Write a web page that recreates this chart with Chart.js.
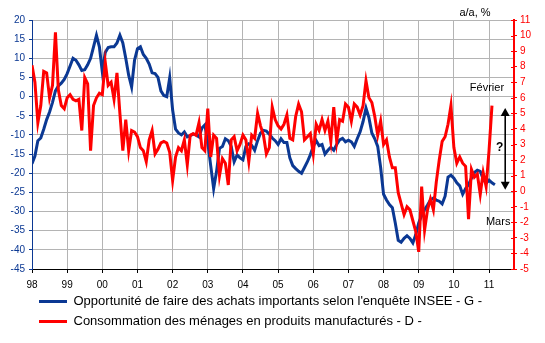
<!DOCTYPE html>
<html lang="fr">
<head>
<meta charset="utf-8">
<script src="https://cdn.jsdelivr.net/npm/chart.js@4.4.0/dist/chart.umd.min.js"></script>
<style>
  html, body { margin: 0; padding: 0; background: #fff; }
</style>
</head>
<body>
<canvas id="graphique" width="545" height="343"></canvas>
<script>
// Séries mensuelles à partir de janvier 1998
const anneeDebut = 1998;
const nomOpportunite = "Opportunité de faire des achats importants selon l'enquête INSEE - G -";
const nomConsommation = "Consommation des ménages en produits manufacturés - D -";

// Solde d'opinion (échelle de gauche), janv. 1998 -> mars 2011
const opportunite = [
  -17.5, -15.5, -11.5, -10.8, -8.5, -6, -4, -1.5, 1.5, 2.8, 3.5, 4.5,
  6, 8, 10, 9.5, 8.3, 6.8, 7, 8.3, 10, 13, 16, 13,
  6.5, 11.5, 12.8, 13, 13, 14, 16, 14, 10, 5.6, 2.5, 9.5,
  12.5, 13, 11, 10, 8.5, 6.2, 6, 5, 1.5, 0.3, 0, 4.9,
  -3.5, -8.5, -9.5, -10, -9.2, -10.5, -10.2, -9.8, -10, -10.5, -8.2, -7.4,
  -12, -18, -24, -19.5, -13.5, -13, -11, -11.5, -13, -17, -15.2, -16,
  -16.5, -13, -12.3, -12.7, -14, -11.5, -9.5, -8.8, -9, -9.8, -10.8, -11.5,
  -12.5, -11, -12, -12, -16, -18, -18.8, -19.5, -20, -18.5, -17, -15.2,
  -13, -11.5, -12.8, -12.5, -15, -14, -13.2, -14, -12.5, -11.3, -10.9, -11.8,
  -11.4, -11.8, -13, -11, -9.2, -6.5, -3, -5.5, -9.5, -11, -13, -18.5,
  -25.5, -27, -28.2, -29, -33, -37.5, -38, -37, -36.3, -37, -38.2, -36,
  -33, -31, -29.5, -28.3, -27, -26.5, -27, -27.3, -28, -26, -21, -20.5,
  -21.3, -22.5, -23.3, -25.5, -24, -23, -21.3, -19.8, -19.2, -19.5, -21.5, -22.6,
  -21.8, -22.5, -23
];

// Glissement annuel en % (échelle de droite), janv. 1998 -> févr. 2011
const consommation = [
  8.1, 7.0, 4.4, 5.5, 7.7, 7.6, 6.0, 6.8, 10.2, 6.5, 5.5, 5.3,
  6.0, 6.2, 5.9, 5.8, 5.9, 3.9, 7.3, 6.9, 2.6, 5.5, 6.0, 6.3,
  6.2, 8.3, 6.8, 7.0, 5.9, 7.6, 5.0, 2.6, 4.6, 2.6, 3.9, 3.8,
  3.5, 2.8, 2.6, 1.9, 3.3, 3.9, 2.4, 2.7, 3.1, 3.2, 3.1, 2.5,
  0.7, 2.2, 2.8, 2.6, 3.3, 1.7, 3.6, 3.7, 3.6, 4.4, 2.8, 2.6,
  5.3, 2.2, 3.6, 3.4, 1.0, 2.1, 1.8, 0.4, 3.3, 3.5, 2.6, 3.0,
  3.6, 3.3, 1.9, 3.6, 3.4, 5.0, 4.2, 3.6, 2.4, 2.8, 5.4, 4.6,
  4.2, 4.0, 4.3, 4.9, 3.4, 3.3, 4.8, 5.6, 5.1, 3.3, 3.5, 3.7,
  2.4, 4.3, 3.9, 4.6, 3.9, 4.5, 3.2, 5.4, 3.2, 4.6, 4.5, 5.6,
  5.4, 4.5, 5.6, 5.4, 4.9, 5.5, 7.1, 6.0, 5.7, 4.8, 3.6, 4.5,
  3.0, 3.3, 2.2, 1.5, 1.5, -0.1, -0.8, -1.5, -1.0, -1.2, -1.9, -2.6,
  -3.9, 0.3, -2.5, -1.2, -0.5, -1.2, 0.6, 2.0, 3.2, 3.5, 4.3, 5.5,
  2.8, 1.8, 2.2, 1.8, 1.6, -1.8, 1.4, 0.9, 1.1, -0.2, 1.2, 0.3,
  2.6, 5.5
];

const bleu = '#0B3893';
const rouge = '#FF0000';
const grille = '#B4B4B4';
const police = 'Arial, "Liberation Sans", sans-serif';

// transforme une série mensuelle en points {x: année décimale, y}
function versPoints(serie) {
  return serie.map((v, i) => ({ x: anneeDebut + i / 12, y: v }));
}

// Flèche et libellés en marge droite (Février / Mars)
const annotations = {
  id: 'annotations',
  afterDraw(chart) {
    const { ctx, chartArea, scales: { x, yD } } = chart;
    ctx.save();

    // petites graduations côté intérieur de l'axe de droite
    ctx.strokeStyle = rouge;
    ctx.lineWidth = 1;
    yD.ticks.forEach(t => {
      const py = Math.round(yD.getPixelForValue(t.value)) + 0.5;
      ctx.beginPath();
      ctx.moveTo(chartArea.right - 3, py);
      ctx.lineTo(chartArea.right, py);
      ctx.stroke();
    });

    ctx.fillStyle = '#000';
    ctx.strokeStyle = '#000';
    ctx.textAlign = 'center';
    ctx.textBaseline = 'middle';
    ctx.font = '11px ' + police;

    ctx.fillText('a/a, %', chartArea.right - 39, chartArea.top - 7);
    ctx.fillText('Février', x.getPixelForValue(2010.94), yD.getPixelForValue(6.63));
    ctx.fillText('Mars', x.getPixelForValue(2011.26), yD.getPixelForValue(-1.98));

    ctx.font = 'bold 12px ' + police;
    ctx.fillText('?', x.getPixelForValue(2011.3), yD.getPixelForValue(2.77));

    // double flèche verticale
    const fx = x.getPixelForValue(2011.46);
    const haut = yD.getPixelForValue(5.35);
    const bas = yD.getPixelForValue(0.1);
    ctx.lineWidth = 1.6;
    ctx.beginPath();
    ctx.moveTo(fx, haut + 6);
    ctx.lineTo(fx, bas - 6);
    ctx.stroke();
    ctx.beginPath();
    ctx.moveTo(fx, haut);
    ctx.lineTo(fx - 4.5, haut + 8);
    ctx.lineTo(fx + 4.5, haut + 8);
    ctx.closePath();
    ctx.fill();
    ctx.beginPath();
    ctx.moveTo(fx, bas);
    ctx.lineTo(fx - 4.5, bas - 8);
    ctx.lineTo(fx + 4.5, bas - 8);
    ctx.closePath();
    ctx.fill();
    ctx.restore();
  }
};

new Chart(document.getElementById('graphique'), {
  type: 'line',
  data: {
    datasets: [
      {
        label: nomOpportunite,
        data: versPoints(opportunite),
        yAxisID: 'yG',
        borderColor: bleu,
        backgroundColor: bleu,
        borderWidth: 3,
        pointRadius: 0,
        tension: 0,
        order: 1
      },
      {
        label: nomConsommation,
        data: versPoints(consommation),
        yAxisID: 'yD',
        borderColor: rouge,
        backgroundColor: rouge,
        borderWidth: 3,
        pointRadius: 0,
        tension: 0,
        order: 0
      }
    ]
  },
  options: {
    responsive: false,
    animation: false,
    devicePixelRatio: 1,
    layout: { padding: { top: 20, left: 0, right: 0, bottom: 5 } },
    scales: {
      x: {
        type: 'linear',
        min: 1998,
        max: 2011.71,
        afterFit: s => { s.height = 19; },
        ticks: {
          stepSize: 1,
          includeBounds: false,
          padding: 6,
          color: '#000',
          font: { size: 10, family: police },
          maxRotation: 0,
          autoSkip: false,
          callback: v => String(v).slice(2)
        },
        grid: { color: grille, tickColor: '#000', tickLength: 4 },
        border: { color: '#000', width: 1 }
      },
      yG: {
        position: 'left',
        min: -45,
        max: 20,
        afterFit: s => { s.width = 32; },
        ticks: { stepSize: 5, padding: 4, color: bleu, font: { size: 10, family: police } },
        grid: { color: grille, tickColor: bleu, tickLength: 3 },
        border: { color: bleu, width: 1 }
      },
      yD: {
        position: 'right',
        min: -5,
        max: 11,
        afterFit: s => { s.width = 31; },
        ticks: { stepSize: 1, padding: 3, color: rouge, font: { size: 10, family: police } },
        grid: { drawOnChartArea: false, tickColor: rouge, tickLength: 3 },
        border: { color: rouge, width: 2 }
      }
    },
    plugins: {
      tooltip: { enabled: false },
      legend: {
        position: 'bottom',
        align: 'start',
        fullSize: false,
        labels: {
          usePointStyle: true,
          pointStyle: 'line',
          pointStyleWidth: 28,
          padding: 7,
          color: '#000',
          font: { size: 13, family: police },
          sort: (a, b) => a.datasetIndex - b.datasetIndex
        }
      }
    }
  },
  plugins: [annotations]
});
</script>
</body>
</html>
